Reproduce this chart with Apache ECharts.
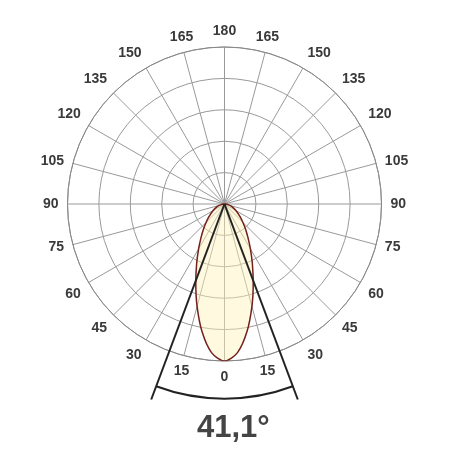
<!DOCTYPE html>
<html>
<head>
<meta charset="utf-8">
<script src="https://cdn.jsdelivr.net/npm/echarts@6/dist/echarts.min.js"></script>
<style>
  html, body { margin: 0; padding: 0; background: #fff; }
  #myChart { width: 450px; height: 450px; }
</style>
</head>
<body>
<div id="myChart"></div>
<script>
// half of the light distribution curve (angle from nadir, relative intensity %)
var lobeAngles = [0, 5, 10, 15, 20, 25, 30, 35, 40, 45, 50, 60, 70, 80, 90];
var lobeValues = [100, 95, 82.5, 67.5, 53.5, 42, 33, 26, 20.8, 16.5, 13.3, 8.5, 5, 2.4, 0];

var beamAngle = 41.1;   // degrees
var beamLineR = 133;    // length of beam lines (radius units)
var beamArcR = 124;     // radius of beam arc (radius units)

// build the full symmetric curve: right side (360 - a) then left side (a)
var lobeData = [];
for (var i = lobeAngles.length - 1; i > 0; i--) {
  lobeData.push([lobeValues[i], 360 - lobeAngles[i]]);
}
for (var j = 0; j < lobeAngles.length; j++) {
  lobeData.push([lobeValues[j], lobeAngles[j]]);
}

var mycharts = echarts.init(document.getElementById("myChart"));
var font = "Liberation Sans, Arial, sans-serif";

var option = {
  animation: false,
  title: {
    text: beamAngle.toFixed(1).replace(".", ",") + "°",
    left: 192,
    top: 408,
    textStyle: { fontFamily: font, fontSize: 31, fontWeight: "bold", color: "#444" }
  },
  polar: {
    center: [224.5, 204],
    radius: 157
  },
  angleAxis: {
    type: "value",
    min: 0,
    max: 360,
    interval: 15,
    startAngle: 270,
    clockwise: true,
    axisLine: { show: true, lineStyle: { color: "#888", width: 1 } },
    axisTick: { show: false },
    axisLabel: {
      margin: 9,
      fontFamily: font,
      fontSize: 14,
      fontWeight: "bold",
      color: "#3a3a3a",
      formatter: function (v) {
        if (v === 360) return "";
        return v <= 180 ? v : 360 - v;
      }
    },
    splitLine: { show: true, lineStyle: { color: "#999", width: 1 } }
  },
  radiusAxis: {
    type: "value",
    min: 0,
    max: 100,
    interval: 20,
    axisLine: { show: false },
    axisTick: { show: false },
    axisLabel: { show: false },
    splitLine: { show: true, lineStyle: { color: "#999", width: 1 } }
  },
  series: [
    {
      type: "line",
      coordinateSystem: "polar",
      data: lobeData,
      symbol: "none",
      smooth: 0.3,
      clip: false,
      lineStyle: { color: "#74201c", width: 1.5 },
      areaStyle: { color: "rgba(252, 242, 185, 0.45)", opacity: 1 },
      z: 3
    },
    {
      type: "custom",
      coordinateSystem: "polar",
      data: [[beamLineR, beamAngle / 2]],
      z: 4,
      renderItem: function (params, api) {
        var r = api.value(0);
        var half = api.value(1);
        var c = api.coord([0, 0]);
        var pL = api.coord([r, half]);
        var pR = api.coord([r, 360 - half]);
        var pA = api.coord([beamArcR, 0]);
        var arcPx = Math.sqrt(Math.pow(pA[0] - c[0], 2) + Math.pow(pA[1] - c[1], 2));
        var aR = Math.atan2(pR[1] - c[1], pR[0] - c[0]);
        var aL = Math.atan2(pL[1] - c[1], pL[0] - c[0]);
        var st = { stroke: "#222", lineWidth: 2, fill: null };
        return {
          type: "group",
          children: [
            { type: "line", shape: { x1: c[0], y1: c[1], x2: pL[0], y2: pL[1] }, style: st },
            { type: "line", shape: { x1: c[0], y1: c[1], x2: pR[0], y2: pR[1] }, style: st },
            { type: "arc", shape: { cx: c[0], cy: c[1], r: arcPx, startAngle: aR, endAngle: aL, clockwise: true }, style: st }
          ]
        };
      }
    }
  ]
};
mycharts.setOption(option);
</script>
</body>
</html>
